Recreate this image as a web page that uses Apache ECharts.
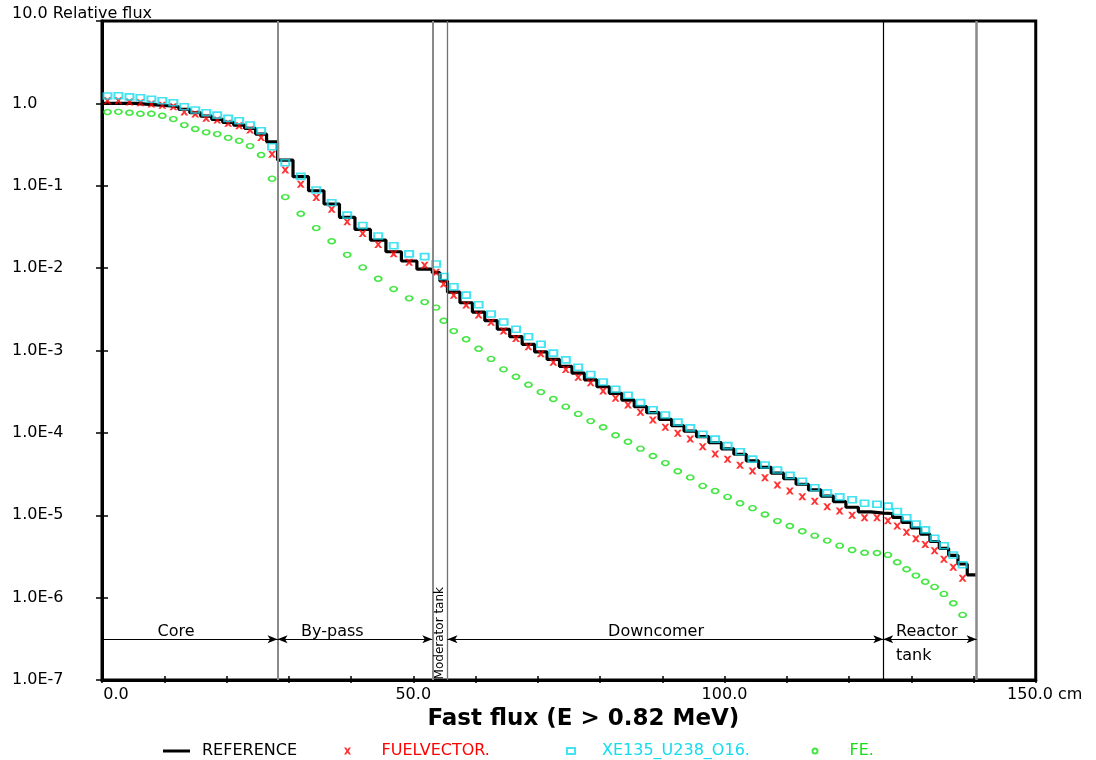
<!DOCTYPE html>
<html><head><meta charset="utf-8">
<script src="https://cdn.jsdelivr.net/npm/echarts@6/dist/echarts.min.js"></script>
<style>html,body{margin:0;padding:0;background:#fff}#c{width:1096px;height:760px}</style>
</head><body><div id="c"></div>
<script>
// ---- mesh (cell centres, cm) ----
const xCells = [
  0.88, 2.64, 4.41, 6.17, 7.93, 9.69, 11.46, 13.22, 14.98, 16.74, 18.51, 20.27, 22.03, 23.79, 25.56, 27.32,
  29.44, 31.93, 34.42, 36.90, 39.39, 41.88, 44.37, 46.85, 49.34, 51.83,
  53.67, 54.89,
  56.5, 58.5, 60.5, 62.5, 64.5, 66.5, 68.5, 70.5, 72.5, 74.5, 76.5, 78.5, 80.5, 82.5, 84.5, 86.5, 88.5,
  90.5, 92.5, 94.5, 96.5, 98.5, 100.5, 102.5, 104.5, 106.5, 108.5, 110.5, 112.5, 114.5, 116.5, 118.5,
  120.5, 122.5, 124.5,
  126.25, 127.75, 129.25, 130.75, 132.25, 133.75, 135.25, 136.75, 138.25, 139.75
];
const regionBounds = [0, 28.2, 53.06, 55.5, 125.5, 140.5];
const regionNames = ['Core', 'By-pass', 'Moderator tank', 'Downcomer', 'Reactor\ntank'];

// ---- series values ----
const reference = [
  1.0, 1.0, 1.0, 0.98, 0.96, 0.935, 0.91, 0.846, 0.77, 0.70, 0.64, 0.588, 0.545, 0.497, 0.424, 0.341,
  0.205, 0.129, 0.087, 0.060, 0.0414, 0.0295, 0.0219, 0.0158, 0.0122, 0.0097,
  0.0088, 0.0070,
  5.1e-3, 3.8e-3, 2.93e-3, 2.3e-3, 1.81e-3, 1.47e-3, 1.19e-3, 9.6e-4, 7.8e-4, 6.4e-4, 5.3e-4, 4.4e-4,
  3.63e-4, 3.02e-4, 2.5e-4, 2.08e-4, 1.76e-4, 1.46e-4, 1.22e-4, 1.05e-4, 9.0e-5, 7.6e-5, 6.4e-5, 5.5e-5,
  4.56e-5, 3.82e-5, 3.24e-5, 2.78e-5, 2.38e-5, 2.03e-5, 1.71e-5, 1.46e-5, 1.25e-5, 1.1e-5, 1.06e-5,
  1.05e-5, 9.4e-6, 8.2e-6, 7.0e-6, 5.9e-6, 4.8e-6, 3.97e-6, 3.26e-6, 2.56e-6, 1.89e-6
];
const fuelVector = [
  1.075, 1.075, 1.037, 1.017, 0.98, 0.946, 0.91, 0.784, 0.742, 0.658, 0.627, 0.572, 0.535, 0.475, 0.386, 0.242,
  0.155, 0.104, 0.0722, 0.0518, 0.0365, 0.0264, 0.0194, 0.0149, 0.0118, 0.0108,
  0.0089, 0.0064,
  4.7e-3, 3.56e-3, 2.7e-3, 2.2e-3, 1.72e-3, 1.4e-3, 1.11e-3, 9.1e-4, 7.2e-4, 5.9e-4, 4.73e-4, 4.07e-4,
  3.22e-4, 2.63e-4, 2.18e-4, 1.78e-4, 1.43e-4, 1.17e-4, 9.9e-5, 8.4e-5, 6.8e-5, 5.55e-5, 4.8e-5, 4.05e-5,
  3.44e-5, 2.86e-5, 2.33e-5, 1.97e-5, 1.68e-5, 1.48e-5, 1.27e-5, 1.13e-5, 1.0e-5, 9.35e-6, 9.35e-6,
  8.6e-6, 7.4e-6, 6.2e-6, 5.2e-6, 4.4e-6, 3.7e-6, 2.92e-6, 2.34e-6, 1.72e-6
];
const xe135U238O16 = [
  1.23, 1.24, 1.20, 1.17, 1.12, 1.075, 1.02, 0.91, 0.83, 0.77, 0.72, 0.658, 0.615, 0.545, 0.465, 0.297,
  0.19, 0.13, 0.0887, 0.0622, 0.044, 0.033, 0.0245, 0.0187, 0.0149, 0.0138,
  0.0112, 0.0079,
  5.95e-3, 4.7e-3, 3.6e-3, 2.77e-3, 2.22e-3, 1.81e-3, 1.47e-3, 1.19e-3, 9.3e-4, 7.7e-4, 6.25e-4, 5.1e-4,
  4.15e-4, 3.38e-4, 2.86e-4, 2.33e-4, 1.91e-4, 1.65e-4, 1.35e-4, 1.15e-4, 9.6e-5, 8.4e-5, 7.0e-5, 5.9e-5,
  4.8e-5, 4.08e-5, 3.54e-5, 3.05e-5, 2.59e-5, 2.16e-5, 1.87e-5, 1.67e-5, 1.54e-5, 1.4e-5, 1.36e-5,
  1.29e-5, 1.11e-5, 9.35e-6, 7.85e-6, 6.64e-6, 5.26e-6, 4.27e-6, 3.3e-6, 2.5e-6
];
const fe = [
  0.784, 0.79, 0.77, 0.748, 0.748, 0.707, 0.645, 0.545, 0.488, 0.445, 0.424, 0.382, 0.351, 0.303, 0.236, 0.122,
  0.0729, 0.0457, 0.0306, 0.0212, 0.0145, 0.0102, 0.00744, 0.00557, 0.0043, 0.00387,
  0.00332, 0.0023,
  1.72e-3, 1.37e-3, 1.05e-3, 7.9e-4, 5.9e-4, 4.8e-4, 3.84e-4, 3.13e-4, 2.58e-4, 2.08e-4, 1.7e-4, 1.39e-4,
  1.17e-4, 9.35e-5, 7.8e-5, 6.43e-5, 5.24e-5, 4.3e-5, 3.42e-5, 2.88e-5, 2.27e-5, 1.97e-5, 1.67e-5, 1.4e-5,
  1.22e-5, 1.02e-5, 8.5e-6, 7.4e-6, 6.4e-6, 5.65e-6, 4.92e-6, 4.27e-6, 3.79e-6, 3.51e-6, 3.48e-6,
  3.3e-6, 2.69e-6, 2.21e-6, 1.85e-6, 1.56e-6, 1.35e-6, 1.11e-6, 8.55e-7, 6.17e-7
];

// ---- tick labels ----
const xLabelValues = [0, 50, 100, 150];
const xLabelTexts = ['0.0', '50.0', '100.0', '150.0 cm'];
const yTickLabels = ['1.0E-7', '1.0E-6', '1.0E-5', '1.0E-4', '1.0E-3', '1.0E-2', '1.0E-1', '1.0', '10.0 Relative flux'];
const seriesNames = ['REFERENCE', 'FUELVECTOR.', 'XE135_U238_O16.', 'FE.'];
const xTitle = 'Fast flux (E > 0.82 MeV)';

// ---- build step line from cell values ----
const edges = [regionBounds[0]];
for (let i = 1; i < reference.length; i++) {
  const a = xCells[i - 1], b = xCells[i];
  const bd = regionBounds.find(r => r > a && r < b);
  edges.push(bd !== undefined ? bd : (a + b) / 2);
}
edges.push(regionBounds[regionBounds.length - 1]);
const refStep = [];
reference.forEach((v, i) => { refStep.push([edges[i], v]); refStep.push([edges[i + 1], v]); });
const pts = arr => arr.map((v, i) => [xCells[i], v]);

const FONT = 'DejaVu Sans';
const FS = 16;
const RED = '#ff0000', CYAN = '#14dcee', GREEN = '#14e014';
const arrowY = 3.13e-7, textY = 3.86e-7;
const crossPath = 'path://M0,0L3,0L5,2.8L7,0L10,0L6.6,5L10,10L7,10L5,7.2L3,10L0,10L3.4,5Z';

const chart = echarts.init(document.getElementById('c'), null, {renderer: 'canvas'});
const legendText = c => ({color: c, fontSize: FS, fontFamily: FONT, lineHeight: 20});
const option = {
  animation: false,
  backgroundColor: '#fff',
  textStyle: {fontFamily: FONT, color: '#000'},
  grid: {left: 102, top: 21, width: 933.75, height: 659, show: true, borderColor: '#000', borderWidth: 3,
         backgroundColor: 'transparent', containLabel: false, outerBoundsMode: 'none'},
  xAxis: [{
    type: 'value', min: 0, max: 150, interval: 10,
    axisLine: {show: true, onZero: false, lineStyle: {color: '#000', width: 3}},
    axisTick: {show: true, inside: true, length: 4, lineStyle: {color: '#000', width: 1.5}},
    splitLine: {show: false},
    axisLabel: {
      show: true, margin: 7, fontSize: FS, color: '#000', fontFamily: FONT,
      showMinLabel: true, showMaxLabel: true, alignMinLabel: 'center', alignMaxLabel: 'center',
      formatter: v => {
        const i = xLabelValues.indexOf(Math.round(v));
        if (i < 0 || Math.abs(v - xLabelValues[i]) > 1e-6) return '';
        if (i === 0) return '{l|' + xLabelTexts[i] + '}';
        if (i === xLabelValues.length - 1) return '{r|' + xLabelTexts[i] + '}';
        return xLabelTexts[i];
      },
      rich: {
        l: {padding: [0, 0, 0, 28], fontSize: FS, fontFamily: FONT, color: '#000'},
        r: {padding: [0, 0, 0, 18], fontSize: FS, fontFamily: FONT, color: '#000'}
      }
    },
    name: xTitle, nameLocation: 'middle', nameGap: 26,
    nameTextStyle: {fontSize: 23, fontWeight: 'bold', color: '#000', fontFamily: FONT, padding: [0, 0, 0, 29]}
  }, {
    type: 'value', min: 0, max: 150, interval: 10, position: 'bottom',
    axisLine: {show: false}, splitLine: {show: false}, axisLabel: {show: false},
    axisTick: {show: true, inside: false, length: 3, lineStyle: {color: '#000', width: 1.5}}
  }],
  yAxis: [{
    type: 'log', logBase: 10, min: 1e-7, max: 10, splitNumber: 8,
    axisLine: {show: true, onZero: false, lineStyle: {color: '#000', width: 3}},
    axisTick: {show: true, inside: false, length: 6, lineStyle: {color: '#000', width: 1.5}},
    splitLine: {show: false}, minorTick: {show: false},
    axisLabel: {
      show: true, align: 'left', margin: 90, fontSize: FS, color: '#000', fontFamily: FONT,
      showMinLabel: true, showMaxLabel: true,
      formatter: v => {
        const e = Math.round(Math.log10(v));
        const s = yTickLabels[e + 7];
        if (s === undefined) return '';
        return e === 1 ? '{top|' + s + '}' : s;
      },
      rich: {top: {padding: [0, 0, 14, 0], fontSize: FS, fontFamily: FONT, color: '#000'}}
    }
  }, {
    type: 'log', logBase: 10, min: 1e-7, max: 10, splitNumber: 8, position: 'left',
    axisLine: {show: false}, splitLine: {show: false}, axisLabel: {show: false},
    axisTick: {show: true, inside: true, length: 6, lineStyle: {color: '#000', width: 1.5}}
  }],
  legend: [
    {data: [{name: seriesNames[0], icon: 'rect'}], left: 163, top: 741, padding: 0, itemWidth: 27, itemHeight: 3,
     selectedMode: false, textStyle: Object.assign(legendText('#000'), {padding: [0, 0, 0, 7]})},
    {data: [seriesNames[1]], left: 344, top: 741, padding: 0, itemWidth: 8, itemHeight: 7, selectedMode: false,
     textStyle: Object.assign(legendText(RED), {padding: [0, 0, 0, 25]})},
    {data: [seriesNames[2]], left: 566, top: 741, padding: 0, itemWidth: 8, itemHeight: 6, selectedMode: false,
     textStyle: Object.assign(legendText(CYAN), {padding: [0, 0, 0, 22]})},
    {data: [seriesNames[3]], left: 811.5, top: 741, padding: 0, itemWidth: 7, itemHeight: 5, selectedMode: false,
     textStyle: Object.assign(legendText(GREEN), {padding: [0, 0, 0, 26]})}
  ],
  series: [
    {
      name: seriesNames[0], type: 'line', data: refStep, symbol: 'none', showSymbol: false,
      lineStyle: {color: '#000', width: 3.2}, itemStyle: {color: '#000'}, z: 2, silent: true,
      emphasis: {disabled: true},
      markLine: {
        silent: true, symbol: ['none', 'none'], animation: false,
        label: {show: false},
        lineStyle: {type: 'solid', color: '#000', width: 1},
        data: [
          {xAxis: regionBounds[1], lineStyle: {color: '#8a8a8a', width: 2, type: 'solid'}},
          {xAxis: regionBounds[2], lineStyle: {color: '#8a8a8a', width: 2, type: 'solid'}},
          {xAxis: regionBounds[3], lineStyle: {color: '#707070', width: 1.3, type: 'solid'}},
          {xAxis: regionBounds[4], lineStyle: {color: '#000', width: 1.2, type: 'solid'}},
          {xAxis: regionBounds[5], lineStyle: {color: '#8a8a8a', width: 2.5, type: 'solid'}},
          [{coord: [regionBounds[0], arrowY], symbol: 'none'},
           {coord: [regionBounds[1], arrowY], symbol: 'arrow', symbolSize: [6, 10]}],
          [{coord: [regionBounds[1], arrowY], symbol: 'arrow', symbolSize: [6, 10]},
           {coord: [regionBounds[2], arrowY], symbol: 'arrow', symbolSize: [6, 10]}],
          [{coord: [regionBounds[3], arrowY], symbol: 'arrow', symbolSize: [6, 10]},
           {coord: [regionBounds[4], arrowY], symbol: 'arrow', symbolSize: [6, 10]}],
          [{coord: [regionBounds[4], arrowY], symbol: 'arrow', symbolSize: [6, 10]},
           {coord: [regionBounds[5], arrowY], symbol: 'arrow', symbolSize: [6, 10]}]
        ]
      },
      markPoint: {
        silent: true, symbol: 'rect', symbolSize: 1, itemStyle: {color: 'rgba(0,0,0,0)'},
        label: {show: true, position: 'inside', formatter: '{b}', color: '#000', fontSize: FS, fontFamily: FONT},
        data: [
          {name: regionNames[0], coord: [11.9, textY]},
          {name: regionNames[1], coord: [37.0, textY]},
          {name: regionNames[2], coord: [54.3, 3.7e-7], label: {rotate: 90, fontSize: 12}},
          {name: regionNames[3], coord: [89.0, textY]},
          {name: regionNames[4], coord: [127.55, 2.74e-7], label: {align: 'left', lineHeight: 24}}
        ]
      }
    },
    {
      name: seriesNames[1], type: 'scatter', data: pts(fuelVector), symbol: crossPath, symbolSize: [8, 7],
      itemStyle: {color: RED}, z: 3, silent: true, emphasis: {disabled: true}
    },
    {
      name: seriesNames[2], type: 'scatter', data: pts(xe135U238O16), symbol: 'rect', symbolSize: [8, 6],
      itemStyle: {color: 'rgba(255,255,255,0)', borderColor: CYAN, borderWidth: 1.8}, z: 4, silent: true,
      emphasis: {disabled: true}
    },
    {
      name: seriesNames[3], type: 'scatter', data: pts(fe), symbol: 'circle', symbolSize: [7, 5],
      itemStyle: {color: 'rgba(255,255,255,0)', borderColor: GREEN, borderWidth: 1.6}, z: 3, silent: true,
      emphasis: {disabled: true}
    }
  ]
};
chart.setOption(option);
</script>
</body></html>
